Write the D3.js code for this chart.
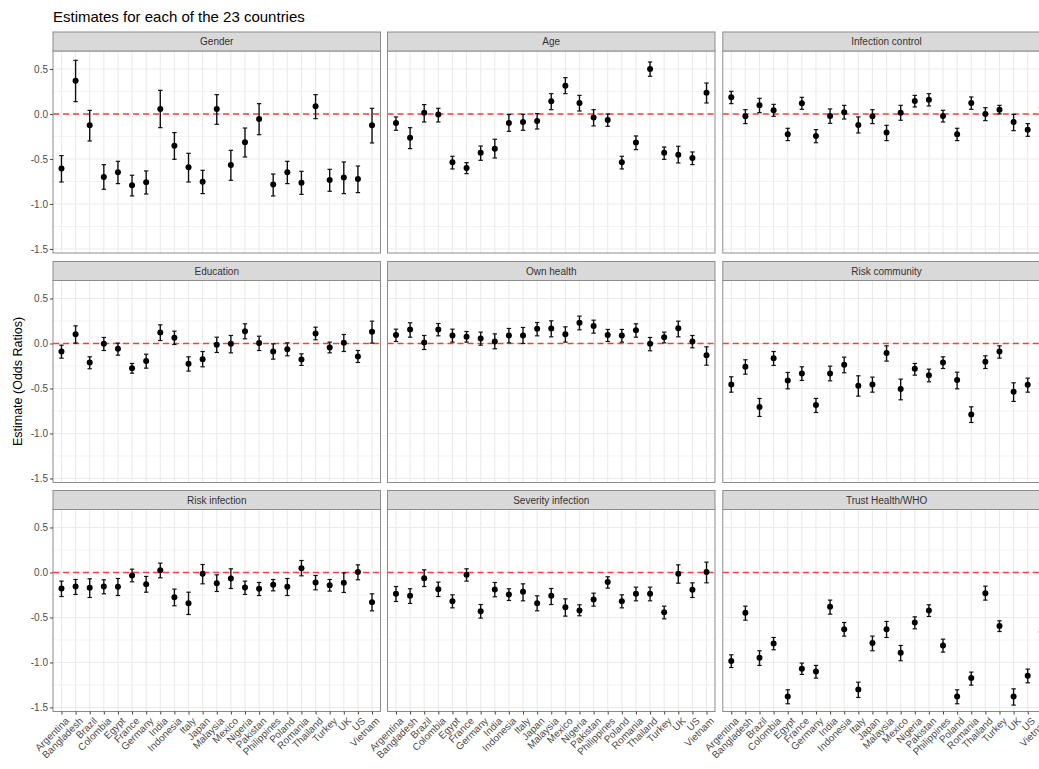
<!DOCTYPE html>
<html>
<head>
<meta charset="utf-8">
<script src="https://cdn.jsdelivr.net/npm/d3@7"></script>
<style>
html,body{margin:0;padding:0;background:#fff;overflow:hidden;}
svg{display:block;font-family:"Liberation Sans",Arial,sans-serif;}
</style>
</head>
<body>
<svg id="chart" width="1039" height="769"></svg>
<script>
const countries = ["Argentina","Bangladesh","Brazil","Colombia","Egypt","France","Germany","India","Indonesia","Italy","Japan","Malaysia","Mexico","Nigeria","Pakistan","Philippines","Poland","Romania","Thailand","Turkey","UK","US","Vietnam"];
const facets = ["Gender","Age","Infection control","Education","Own health","Risk community","Risk infection","Severity infection","Trust Health/WHO"];
const yTicks = [0.5, 0, -0.5, -1, -1.5];
const yTickLabels = ["0.5","0.0","-0.5","-1.0","-1.5"];

const genderEst = [-0.607,0.37,-0.126,-0.70,-0.648,-0.793,-0.759,0.056,-0.352,-0.593,-0.752,0.056,-0.567,-0.315,-0.056,-0.785,-0.648,-0.763,0.085,-0.733,-0.707,-0.722,-0.126];
const genderLo  = [-0.756,0.137,-0.30,-0.837,-0.774,-0.911,-0.889,-0.152,-0.504,-0.756,-0.885,-0.115,-0.737,-0.478,-0.23,-0.911,-0.774,-0.893,-0.052,-0.859,-0.885,-0.874,-0.322];
const genderHi  = [-0.463,0.596,0.04,-0.563,-0.526,-0.681,-0.633,0.263,-0.207,-0.437,-0.626,0.215,-0.404,-0.156,0.115,-0.667,-0.526,-0.637,0.215,-0.615,-0.533,-0.578,0.063];

const ageEst = [-0.10,-0.263,0.015,-0.007,-0.537,-0.60,-0.43,-0.385,-0.10,-0.089,-0.078,0.141,0.315,0.122,-0.04,-0.066,-0.537,-0.318,0.50,-0.43,-0.452,-0.489,0.237];
const ageLo  = [-0.181,-0.385,-0.089,-0.089,-0.611,-0.663,-0.515,-0.489,-0.193,-0.181,-0.167,0.048,0.226,0.033,-0.133,-0.137,-0.611,-0.396,0.419,-0.504,-0.544,-0.563,0.122];
const ageHi  = [-0.033,-0.152,0.104,0.063,-0.47,-0.541,-0.356,-0.281,-0.007,-0.004,0.004,0.226,0.404,0.207,0.048,0,-0.47,-0.244,0.578,-0.367,-0.359,-0.422,0.344];

const infCtrlEst = [0.185,-0.026,0.096,0.041,-0.226,0.119,-0.244,-0.022,0.019,-0.122,-0.026,-0.207,0.015,0.144,0.159,-0.022,-0.226,0.122,0,0.048,-0.089,-0.174,0.07];
const infCtrlLo  = [0.115,-0.107,0.015,-0.026,-0.296,0.052,-0.319,-0.104,-0.056,-0.211,-0.107,-0.296,-0.07,0.078,0.089,-0.089,-0.296,0.052,-0.074,0,-0.185,-0.248,0.01];
const infCtrlHi  = [0.252,0.048,0.174,0.107,-0.159,0.185,-0.174,0.056,0.096,-0.033,0.048,-0.126,0.096,0.207,0.226,0.041,-0.159,0.189,0.07,0.096,-0.004,-0.107,0.13];

const eduEst = [-0.089,0.104,-0.211,-0.004,-0.059,-0.274,-0.196,0.122,0.063,-0.226,-0.174,-0.015,-0.004,0.137,0.004,-0.089,-0.063,-0.178,0.111,-0.044,0.007,-0.144,0.13];
const eduLo  = [-0.163,0.004,-0.281,-0.078,-0.13,-0.33,-0.274,0.033,-0.011,-0.307,-0.259,-0.1,-0.104,0.052,-0.078,-0.174,-0.137,-0.244,0.041,-0.104,-0.089,-0.211,0.004];
const eduHi  = [-0.019,0.196,-0.148,0.067,0.004,-0.222,-0.119,0.207,0.137,-0.148,-0.089,0.07,0.089,0.219,0.081,-0.004,0.007,-0.115,0.181,0.015,0.1,-0.078,0.248];

const healthEst = [0.093,0.156,0.011,0.156,0.089,0.074,0.056,0.022,0.089,0.089,0.163,0.167,0.104,0.23,0.193,0.093,0.089,0.148,-0.004,0.07,0.17,0.022,-0.13];
const healthLo  = [0.022,0.07,-0.067,0.085,0.015,0.015,-0.019,-0.059,0.007,0,0.085,0.074,0.015,0.152,0.115,0.022,0.015,0.07,-0.081,0.007,0.074,-0.048,-0.241];
const healthHi  = [0.159,0.23,0.089,0.222,0.159,0.133,0.126,0.107,0.167,0.178,0.233,0.252,0.185,0.304,0.259,0.156,0.156,0.219,0.067,0.126,0.248,0.089,-0.037];

const riskComEst = [-0.456,-0.259,-0.707,-0.163,-0.411,-0.333,-0.685,-0.333,-0.237,-0.47,-0.456,-0.107,-0.507,-0.281,-0.352,-0.211,-0.407,-0.789,-0.204,-0.089,-0.537,-0.459,-0.44];
const riskComLo  = [-0.541,-0.341,-0.811,-0.244,-0.504,-0.411,-0.767,-0.415,-0.326,-0.585,-0.541,-0.196,-0.626,-0.352,-0.426,-0.278,-0.504,-0.878,-0.278,-0.163,-0.644,-0.541,-0.5];
const riskComHi  = [-0.37,-0.181,-0.611,-0.089,-0.322,-0.259,-0.611,-0.252,-0.152,-0.359,-0.374,-0.026,-0.396,-0.222,-0.285,-0.148,-0.319,-0.704,-0.137,-0.026,-0.437,-0.385,-0.38];

const riskInfEst = [-0.178,-0.156,-0.17,-0.156,-0.159,-0.033,-0.13,0.026,-0.274,-0.341,-0.015,-0.119,-0.067,-0.167,-0.181,-0.137,-0.159,0.048,-0.111,-0.141,-0.115,0.004,-0.33];
const riskInfLo  = [-0.267,-0.244,-0.278,-0.237,-0.256,-0.104,-0.219,-0.059,-0.37,-0.467,-0.126,-0.211,-0.178,-0.244,-0.256,-0.204,-0.256,-0.037,-0.193,-0.207,-0.222,-0.081,-0.426];
const riskInfHi  = [-0.096,-0.078,-0.07,-0.081,-0.067,0.037,-0.044,0.104,-0.185,-0.219,0.089,-0.026,0.041,-0.096,-0.111,-0.078,-0.067,0.133,-0.033,-0.078,-0.004,0.085,-0.237];

const sevEst = [-0.237,-0.259,-0.063,-0.185,-0.319,-0.026,-0.43,-0.189,-0.244,-0.215,-0.341,-0.259,-0.385,-0.422,-0.3,-0.107,-0.319,-0.237,-0.237,-0.441,-0.015,-0.193,0.004];
const sevLo  = [-0.322,-0.344,-0.156,-0.267,-0.393,-0.096,-0.507,-0.27,-0.311,-0.315,-0.426,-0.356,-0.485,-0.481,-0.374,-0.174,-0.393,-0.315,-0.315,-0.515,-0.119,-0.278,-0.115];
const sevHi  = [-0.156,-0.181,0.03,-0.107,-0.248,0.041,-0.356,-0.111,-0.181,-0.126,-0.259,-0.178,-0.293,-0.359,-0.23,-0.048,-0.248,-0.163,-0.163,-0.374,0.085,-0.115,0.115];

const trustEst = [-0.985,-0.448,-0.948,-0.789,-1.378,-1.07,-1.1,-0.381,-0.63,-1.3,-0.785,-0.63,-0.893,-0.556,-0.422,-0.811,-1.378,-1.174,-0.23,-0.596,-1.378,-1.148,-0.66];
const trustLo  = [-1.056,-0.53,-1.033,-0.859,-1.459,-1.133,-1.174,-0.463,-0.707,-1.389,-0.87,-0.722,-0.981,-0.626,-0.489,-0.885,-1.459,-1.252,-0.307,-0.656,-1.474,-1.226,-0.73];
const trustHi  = [-0.915,-0.374,-0.87,-0.722,-1.304,-1.007,-1.033,-0.307,-0.556,-1.219,-0.707,-0.544,-0.811,-0.493,-0.359,-0.741,-1.304,-1.107,-0.152,-0.537,-1.293,-1.074,-0.59];

const panelData = [
  [genderEst, genderLo, genderHi],
  [ageEst, ageLo, ageHi],
  [infCtrlEst, infCtrlLo, infCtrlHi],
  [eduEst, eduLo, eduHi],
  [healthEst, healthLo, healthHi],
  [riskComEst, riskComLo, riskComHi],
  [riskInfEst, riskInfLo, riskInfHi],
  [sevEst, sevLo, sevHi],
  [trustEst, trustLo, trustHi]
];

// layout
const colX = [53, 387.5, 722.8];
const panelW = 327.5;
const stripTop = [32, 261.5, 490.5];
const stripH = 19;
const plotH = 202;

const svg = d3.select("#chart");
const font = "Liberation Sans, Arial, sans-serif";

// title
svg.append("text").attr("x", 53).attr("y", 21.5)
  .attr("font-size", 15).attr("fill", "#000")
  .text("Estimates for each of the 23 countries");

// y axis title
svg.append("text")
  .attr("transform", `translate(22,${(51 + 712) / 2}) rotate(-90)`)
  .attr("text-anchor", "middle").attr("font-size", 12.5).attr("fill", "#000")
  .text("Estimate (Odds Ratios)");

const x = d3.scalePoint().domain(countries).range([0, panelW]).padding(0.6);
const y = d3.scaleLinear().domain([-1.545, 0.70]).range([plotH, 0]);
const minorTicks = [0.25, -0.25, -0.75, -1.25];

facets.forEach((name, i) => {
  const r = Math.floor(i / 3), c = i % 3;
  const px = colX[c], sy = stripTop[r], py = sy + stripH;
  const g = svg.append("g").attr("transform", `translate(${px},${py})`);

  g.append("rect").attr("width", panelW).attr("height", plotH).attr("fill", "#fff");
  g.selectAll(".ming").data(minorTicks).enter().append("line")
    .attr("x1", 0).attr("x2", panelW)
    .attr("y1", d => y(d)).attr("y2", d => y(d))
    .attr("stroke", "#f0f0f0").attr("stroke-width", 0.8);
  g.selectAll(".majg").data(yTicks).enter().append("line")
    .attr("x1", 0).attr("x2", panelW)
    .attr("y1", d => y(d)).attr("y2", d => y(d))
    .attr("stroke", "#ebebeb").attr("stroke-width", 1.1);
  g.selectAll(".vg").data(countries).enter().append("line")
    .attr("x1", d => x(d)).attr("x2", d => x(d))
    .attr("y1", 0).attr("y2", plotH)
    .attr("stroke", "#ebebeb").attr("stroke-width", 1.1);

  g.append("line").attr("x1", 0).attr("x2", panelW)
    .attr("y1", y(0)).attr("y2", y(0))
    .attr("stroke", "#ff2a2a").attr("stroke-width", 1.6)
    .attr("stroke-dasharray", "6,4").attr("opacity", 0.9);

  const [est, lo, hi] = panelData[i];
  const pts = countries.map((cn, k) => ({c: cn, e: est[k], lo: lo[k], hi: hi[k]}));
  const cap = 2.2;
  const eb = g.selectAll(".eb").data(pts).enter().append("g");
  eb.append("line").attr("x1", d => x(d.c)).attr("x2", d => x(d.c))
    .attr("y1", d => y(d.lo)).attr("y2", d => y(d.hi))
    .attr("stroke", "#111").attr("stroke-width", 1.4);
  eb.append("line").attr("x1", d => x(d.c) - cap).attr("x2", d => x(d.c) + cap)
    .attr("y1", d => y(d.lo)).attr("y2", d => y(d.lo))
    .attr("stroke", "#111").attr("stroke-width", 1.2);
  eb.append("line").attr("x1", d => x(d.c) - cap).attr("x2", d => x(d.c) + cap)
    .attr("y1", d => y(d.hi)).attr("y2", d => y(d.hi))
    .attr("stroke", "#111").attr("stroke-width", 1.2);
  eb.append("circle").attr("cx", d => x(d.c)).attr("cy", d => y(d.e))
    .attr("r", 3).attr("fill", "#000");

  g.append("rect").attr("width", panelW).attr("height", plotH)
    .attr("fill", "none").attr("stroke", "#8c8c8c").attr("stroke-width", 1);

  svg.append("rect").attr("x", px).attr("y", sy).attr("width", panelW).attr("height", stripH)
    .attr("fill", "#d9d9d9").attr("stroke", "#8c8c8c").attr("stroke-width", 1);
  svg.append("text").attr("x", px + panelW / 2).attr("y", sy + stripH / 2)
    .attr("dy", "0.35em").attr("text-anchor", "middle")
    .attr("font-size", 10).attr("fill", "#333").text(name);

  if (c === 0) {
    const ya = d3.axisLeft(y).tickValues(yTicks).tickSize(3).tickPadding(2)
      .tickFormat((d, k) => yTickLabels[k]);
    const ag = g.append("g").call(ya);
    ag.select(".domain").remove();
    ag.selectAll(".tick line").attr("stroke", "#444");
    ag.selectAll(".tick text").attr("fill", "#4d4d4d").attr("font-size", 10).attr("font-family", font);
  }
  if (r === 2) {
    const xa = d3.axisBottom(x).tickSize(3).tickFormat("");
    const ag = g.append("g").attr("transform", `translate(0,${plotH})`).call(xa);
    ag.select(".domain").remove();
    ag.selectAll(".tick line").attr("stroke", "#444");
    g.selectAll(".xl").data(countries).enter().append("text")
      .attr("transform", d => `translate(${x(d) + 3},${plotH + 5}) rotate(-45)`)
      .attr("text-anchor", "end").attr("dy", "0.72em")
      .attr("font-size", 10).attr("fill", "#4d4d4d")
      .text(d => d);
  }
});
</script>
</body>
</html>
